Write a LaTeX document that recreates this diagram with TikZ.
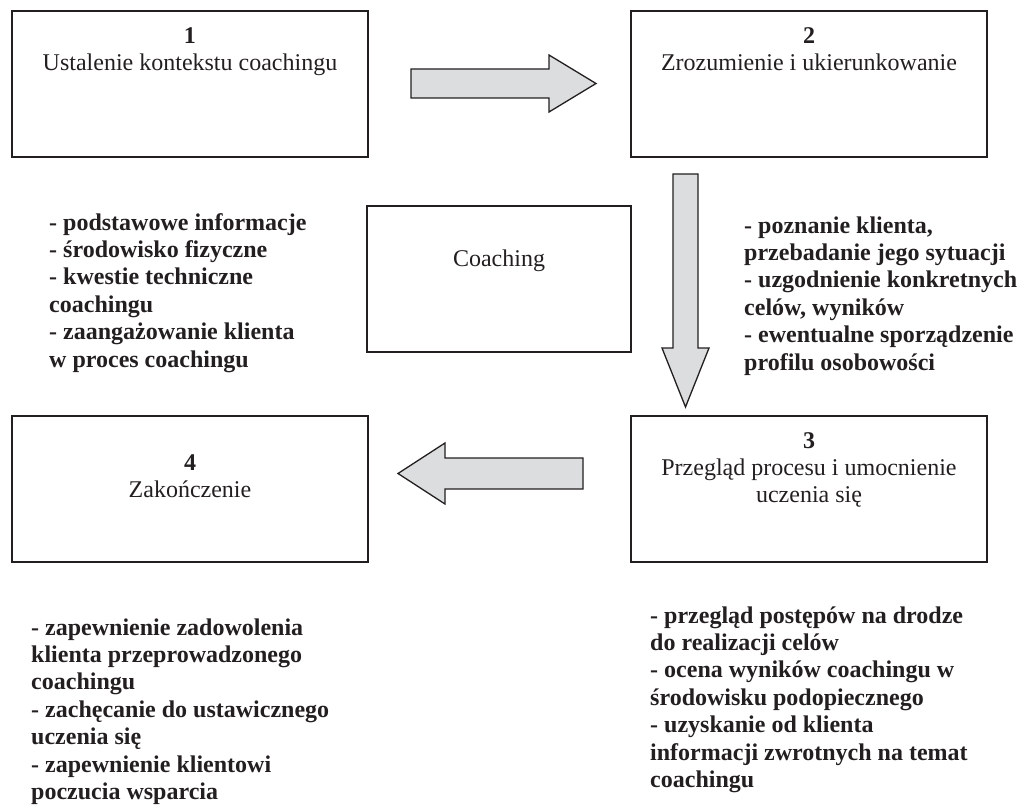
\documentclass[tikz,border=0pt]{standalone}
\usepackage{fontspec}
\setmainfont{Liberation Serif}
\definecolor{ink}{HTML}{231F20}
\definecolor{arrowfill}{HTML}{DCDDDE}
\tikzset{
  stagebox/.style={draw=ink, line width=1.3pt, rectangle, inner sep=0pt},
  boxlabel/.style={anchor=north, align=center, inner sep=0pt, text=ink,
    font=\fontsize{24}{27.4}\selectfont},
  notelist/.style={anchor=north west, align=left, inner sep=0pt, text=ink,
    font=\fontsize{24}{27.4}\selectfont\bfseries},
  blockarrow/.style={draw=ink, fill=arrowfill, line width=1.3pt, line join=miter},
}
\begin{document}
\begin{tikzpicture}[x=1pt, y=-1pt]
\useasboundingbox (0,0) rectangle (1018,805);

% stage boxes
\node[stagebox, minimum width=356pt, minimum height=146pt] (b1) at (190,84) {};
\node[stagebox, minimum width=356pt, minimum height=146pt] (b2) at (809,84) {};
\node[stagebox, minimum width=356pt, minimum height=146pt] (b3) at (809,489) {};
\node[stagebox, minimum width=356pt, minimum height=146pt] (b4) at (190,489) {};
\node[stagebox, minimum width=264pt, minimum height=146pt] (bc) at (499,279) {};

% box labels
\node[boxlabel] (t1) at (190,23.8) {\strut\textbf{1}\\Ustalenie kontekstu coachingu};
\node[boxlabel] (t2) at (809,23.8) {\strut\textbf{2}\\Zrozumienie i ukierunkowanie};
\node[boxlabel] (t3) at (809,428.8) {\strut\textbf{3}\\Przegląd procesu i umocnienie\\uczenia się};
\node[boxlabel] (t4) at (190,450.8) {\strut\textbf{4}\\Zakończenie};
\node[boxlabel] (tc) at (499,246.8) {\strut Coaching};

% block arrows
% right arrow (1 -> 2)
\coordinate (r1) at (411,69);
\draw[blockarrow] (r1) -- (549,69) -- (549,55) -- (596,83.5) -- (549,112) -- (549,98) -- (411,98) -- cycle;
% down arrow (2 -> 3)
\coordinate (d1) at (673,174);
\draw[blockarrow] (d1) -- (698,174) -- (698,348) -- (709,348) -- (685.5,407) -- (662,348) -- (673,348) -- cycle;
% left arrow (3 -> 4)
\coordinate (l1) at (583,458);
\draw[blockarrow] (l1) -- (445,458) -- (445,443) -- (398,473.5) -- (445,504) -- (445,489) -- (583,489) -- cycle;

% note lists
\node[notelist] (n1) at (49,210.8) {\strut- podstawowe informacje\\- środowisko fizyczne\\- kwestie techniczne\\coachingu\\- zaangażowanie klienta\\w proces coachingu};
\node[notelist] (n2) at (744,213.8) {\strut- poznanie klienta,\\przebadanie jego sytuacji\\- uzgodnienie konkretnych\\celów, wyników\\- ewentualne sporządzenie\\profilu osobowości};
\node[notelist] (n4) at (31,615.8) {\strut- zapewnienie zadowolenia\\klienta przeprowadzonego\\coachingu\\- zachęcanie do ustawicznego\\uczenia się\\- zapewnienie klientowi\\poczucia wsparcia};
\node[notelist] (n3) at (650,603.8) {\strut- przegląd postępów na drodze\\do realizacji celów\\- ocena wyników coachingu w\\środowisku podopiecznego\\- uzyskanie od klienta\\informacji zwrotnych na temat\\coachingu};
\end{tikzpicture}
\end{document}
